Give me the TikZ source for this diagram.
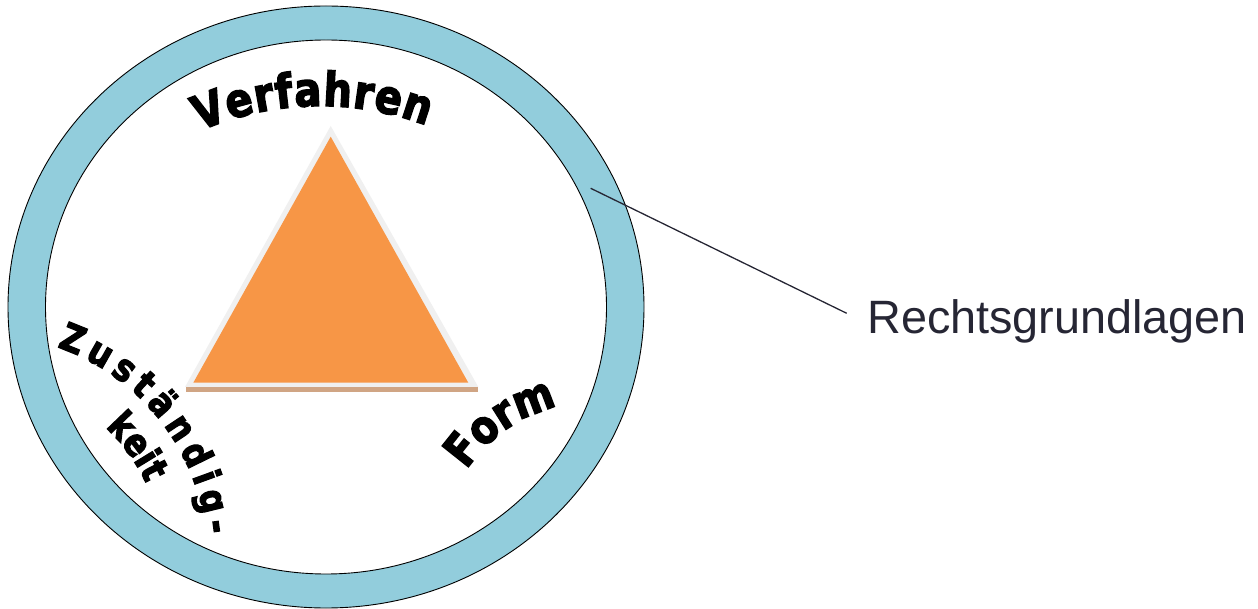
\documentclass[tikz,border=0pt]{standalone}
\usepackage{fontspec}
\setmainfont{Liberation Sans}
\newfontfamily\wafont[FakeStretch=0.85,FakeBold=3]{DejaVu Sans Bold}
\usetikzlibrary{decorations.text}
\definecolor{ringblue}{RGB}{146,205,220}
\definecolor{triorange}{RGB}{247,150,70}
\definecolor{trigray}{RGB}{240,240,240}
\definecolor{tan}{RGB}{208,165,132}
\definecolor{labelgray}{RGB}{38,38,52}
\begin{document}
\begin{tikzpicture}[x=1pt,y=1pt,
  ringedge/.style={draw=black,line width=0.9pt},
  lbltext/.style={font=\fontsize{46.8}{50}\selectfont,text=labelgray,inner sep=0pt,anchor=base west},
  leader/.style={draw=labelgray,line width=1.3pt}]
\useasboundingbox (0,0) rectangle (1258,608);
% ring
\filldraw[ringedge,fill=ringblue] (326,301) ellipse [x radius=318,y radius=301];
\filldraw[ringedge,fill=white] (326,301) ellipse [x radius=280.5,y radius=267];
% triangle
\draw[tan,line width=4.3pt] (186,218.6) -- (478,218.6);
\fill[trigray] (330.7,482) -- (185,221) -- (478.3,221) -- cycle;
\fill[triorange] (330.7,471.3) -- (193.3,225.3) -- (468.3,225.3) -- cycle;
% curved words
\path[decorate,decoration={text along path,text align={fit to path},
  text={|\wafont\fontsize{47}{50}\selectfont|Verfahren}}]
  ([shift={(113.6:300)}]320,202) arc[start angle=113.6,end angle=69.2,radius=300];
\path[decorate,decoration={text along path,text align={fit to path},
  text={|\wafont\fontsize{46}{50}\selectfont|Form}}]
  ([shift={(146.6:149)}]591,56) arc[start angle=146.6,end angle=103.3,radius=149];
\path[decorate,decoration={text along path,text align={fit to path},
  text={|\wafont\fontsize{38}{42}\selectfont|Zuständig-}}]
  ([shift={(71:223)}]-15.6,50.1) arc[start angle=71,end angle=6,radius=223];
\path[decorate,decoration={text along path,text align=center,
  text={|\wafont\fontsize{38}{42}\selectfont|keit}}]
  ([shift={(54:178)}]-15.6,50.1) arc[start angle=54,end angle=18,radius=178];
% label and leader
\node[lbltext] (lbl) at (867,274.7) {Rechtsgrundlagen};
\coordinate (ringpt) at (590.7,419.7);
\coordinate (lineend) at (846.7,294.7);
\draw[leader] (ringpt) -- (lineend);
\end{tikzpicture}
\end{document}
